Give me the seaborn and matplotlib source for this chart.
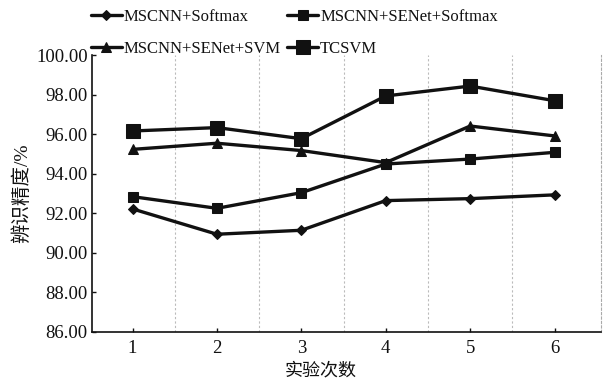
import matplotlib
matplotlib.use("Agg")
import matplotlib.pyplot as plt
import seaborn as sns
import pandas as pd
import numpy as np

runs = [1, 2, 3, 4, 5, 6]
series_names = ["MSCNN+Softmax", "MSCNN+SENet+Softmax", "MSCNN+SENet+SVM", "TCSVM"]
softmax = [92.22, 90.94, 91.14, 92.64, 92.74, 92.93]
senet_softmax = [92.84, 92.25, 93.04, 94.49, 94.74, 95.08]
senet_svm = [95.23, 95.54, 95.17, 94.56, 96.41, 95.91]
tcsvm = [96.16, 96.33, 95.77, 97.93, 98.43, 97.69]
y_ticks = [86, 88, 90, 92, 94, 96, 98, 100]

sns.set_theme(style="white")
plt.rcParams['font.family'] = ['Liberation Serif', 'Noto Sans CJK SC', 'DejaVu Sans']

df = pd.DataFrame({
    "run": runs * 4,
    "acc": softmax + senet_softmax + senet_svm + tcsvm,
    "model": sum([[n] * 6 for n in series_names], []),
})

fig = plt.figure(figsize=(6.04, 3.82), dpi=100)
ax = fig.add_axes([0.1523, 0.131, 0.8427, 0.725])

markers = {"MSCNN+Softmax": "D", "MSCNN+SENet+Softmax": "s",
           "MSCNN+SENet+SVM": "^", "TCSVM": "s"}
sizes = {"MSCNN+Softmax": 5, "MSCNN+SENet+Softmax": 7,
         "MSCNN+SENet+SVM": 7, "TCSVM": 9.5}
for name in series_names:
    sub = df[df.model == name]
    sns.lineplot(data=sub, x="run", y="acc", ax=ax, color="#111111", lw=2.4,
                 marker=markers[name], markersize=sizes[name],
                 markeredgecolor="#111111", label=name, legend=False)

for xv in np.arange(1.5, 6.0, 1.0):
    ax.axvline(xv, color="#bbbbbb", lw=0.8, ls=(0, (2, 2)), zorder=0)

ax.set_xlim(0.52, 6.55)
ax.set_ylim(86, 100)
ax.set_xticks(runs)
ax.set_xticklabels([str(r) for r in runs])
ax.set_yticks(y_ticks)
ax.set_yticklabels([f"{v:.2f}" for v in y_ticks])
ax.tick_params(axis="both", direction="in", length=3, width=1, labelsize=13.5,
               colors="#111111", left=True, bottom=True)
ax.tick_params(axis="x", pad=6)
ax.tick_params(axis="y", pad=3)
for s in ["left", "bottom"]:
    ax.spines[s].set_color("#111111")
    ax.spines[s].set_linewidth(1.2)
ax.spines["top"].set_visible(False)
ax.spines["right"].set_color("#aaaaaa")
ax.spines["right"].set_linestyle((0, (2, 2)))
ax.spines["right"].set_linewidth(0.8)

ax.set_xlabel("实验次数", fontsize=13, color="#111111")
ax.set_ylabel("辨识精度/%", fontsize=14, color="#111111")
ax.xaxis.set_label_coords(0.45, -0.11)
ax.yaxis.set_label_coords(-0.12, 0.5)

h, l = ax.get_legend_handles_labels()
order = [0, 2, 1, 3]
leg = fig.legend([h[i] for i in order], [l[i] for i in order], loc="upper left",
                 bbox_to_anchor=(0.125, 1.016), ncol=2,
                 frameon=False, fontsize=12, handlelength=1.9, handletextpad=0.1,
                 columnspacing=0.35, labelspacing=0.95)
for t in leg.get_texts():
    t.set_color("#111111")

fig.savefig("out.png", dpi=100)
